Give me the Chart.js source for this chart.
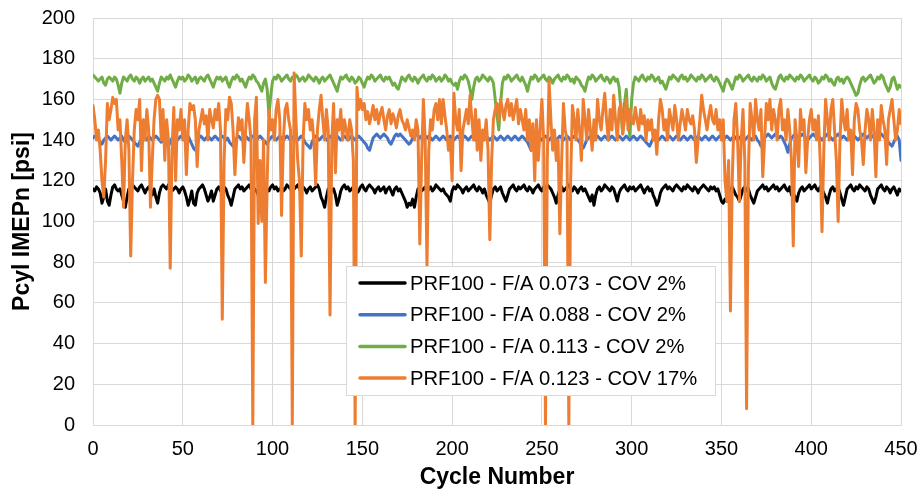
<!DOCTYPE html>
<html>
<head>
<meta charset="utf-8">
<script src="https://cdn.jsdelivr.net/npm/chart.js@4.4.1/dist/chart.umd.min.js"></script>
<style>
  html, body { margin: 0; padding: 0; background: #fff; }
  canvas { display: block; }
</style>
</head>
<body>
<canvas id="chart" width="920" height="489"></canvas>
<script>
// legend labels, in series order
const seriesNames = [
  "PRF100 - F/A 0.073 - COV 2%",
  "PRF100 - F/A 0.088 - COV 2%",
  "PRF100 - F/A 0.113 - COV 2%",
  "PRF100 - F/A 0.123 - COV 17%"
];
const seriesColors = ["#000000", "#4472C4", "#70AD47", "#ED7D31"];

const xTicks = [0, 50, 100, 150, 200, 250, 300, 350, 400, 450];
const yTicks = [0, 20, 40, 60, 80, 100, 120, 140, 160, 180, 200];

// Pcyl IMEPn [psi] per cycle, cycle 0..450
const fa073 = [
  116,115,117,116,114,109,112,116,110,108, // 0
  113,117,118,116,115,116,113,110,107,112,
  116,117,118,117,116,115,117,118,116,114,
  116,117,115,113,116,112,109,114,117,118,
  117,116,118,117,115,116,117,116,114,116,
  117,115,112,108,111,115,109,108,114,116, // 50
  117,118,116,113,110,112,115,110,113,116,
  117,115,116,117,116,113,111,108,112,116,
  117,118,116,117,115,116,117,118,116,114,
  116,115,113,110,114,116,117,116,115,117,
  118,116,117,115,116,117,115,116,118,117, // 100
  116,114,116,117,118,116,115,117,116,114,
  116,117,115,116,117,118,116,112,110,107,
  112,116,117,115,116,113,108,111,115,117,
  118,116,117,115,116,117,116,114,115,117,
  118,116,115,117,118,117,116,114,116,117, // 150
  115,116,117,114,116,117,115,113,116,117,
  115,116,114,112,110,107,109,108,111,107,
  112,116,117,115,116,117,114,116,117,115,
  116,118,117,116,115,116,114,113,112,110,
  115,117,116,118,117,116,114,116,117,115, // 200
  116,117,118,116,115,117,116,114,116,113,
  111,109,113,116,117,115,116,117,114,112,
  110,113,116,117,118,116,115,117,116,117,
  118,116,115,117,116,114,116,117,118,116,
  115,117,116,118,117,116,114,112,109,113, // 250
  116,117,115,116,117,118,116,115,117,116,
  114,116,117,115,116,114,112,110,113,108,
  113,116,117,115,116,118,117,116,115,117,
  116,113,110,114,116,117,118,116,115,117,
  116,117,115,116,117,118,116,114,116,117, // 300
  115,116,113,111,108,110,114,116,117,118,
  116,117,116,115,117,118,117,116,115,117,
  116,118,117,116,115,117,116,114,116,117,
  118,117,116,115,117,116,117,115,116,113,
  110,109,111,110,114,116,117,115,113,112, // 350
  110,113,116,117,115,116,113,111,109,112,
  115,116,117,118,116,117,115,116,117,118,
  116,117,115,116,117,118,116,115,117,113,
  114,112,110,114,116,117,115,116,117,118,
  116,117,118,116,115,117,116,114,112,109, // 400
  113,116,117,115,116,117,114,111,108,112,
  116,117,118,116,115,117,116,118,117,116,
  115,117,116,113,111,109,112,116,117,118,
  116,115,117,116,114,116,117,115,113,116,
  115                                      // 450
];

const fa088 = [
  141,142,141,140,139,138,140,141,142,141, // 0
  140,141,142,141,140,141,142,140,139,141,
  142,141,140,139,138,137,139,141,142,141,
  140,142,141,140,141,142,141,140,139,140,
  139,138,137,139,141,142,141,140,141,142,
  141,140,141,142,140,138,136,135,138,141, // 50
  142,141,140,141,142,141,140,141,142,141,
  140,141,142,141,140,141,139,138,137,139,
  141,142,141,140,141,142,141,140,141,142,
  141,140,141,142,141,140,139,138,140,141,
  142,141,140,141,142,141,140,141,142,141, // 100
  140,141,142,141,140,141,142,141,139,138,
  137,136,139,141,142,141,140,141,142,141,
  140,141,142,141,140,141,142,141,140,141,
  142,141,140,141,142,141,140,141,142,141,
  140,139,138,136,135,138,141,142,143,142, // 150
  141,142,143,142,141,139,138,140,142,143,
  142,143,142,141,140,139,138,139,141,142,
  143,142,141,142,143,142,141,142,141,140,
  141,142,141,140,141,142,141,140,141,142,
  141,140,141,142,141,140,141,142,141,140, // 200
  141,142,141,140,141,142,141,140,141,142,
  141,140,141,142,141,140,141,142,141,140,
  141,142,141,140,141,142,141,140,141,142,
  141,140,139,137,135,138,140,141,142,141,
  140,141,142,141,140,141,142,141,140,141, // 250
  142,141,140,141,142,141,140,141,142,141,
  140,139,137,136,138,140,141,142,141,140,
  141,142,141,140,141,142,141,140,141,142,
  141,140,141,142,141,140,141,142,141,140,
  141,142,141,140,141,142,141,140,139,138, // 300
  137,139,141,142,141,140,141,142,141,140,
  141,142,141,140,141,142,141,140,141,142,
  141,140,141,142,141,140,141,142,141,140,
  141,142,141,140,141,142,141,140,141,142,
  141,140,141,142,141,140,141,142,141,140, // 350
  141,142,141,140,141,142,141,140,141,142,
  140,139,137,139,141,142,143,142,141,142,
  143,142,141,142,141,139,137,134,138,141,
  142,143,142,141,142,143,142,141,140,141,
  142,143,142,141,142,141,140,141,142,143, // 400
  142,141,140,141,142,143,142,141,142,141,
  140,141,142,143,142,141,140,141,142,143,
  142,141,142,143,142,141,140,141,142,143,
  142,141,140,139,138,137,139,141,142,140,
  130                                      // 450
];

const fa113 = [
  172,171,170,169,170,171,168,167,170,171, // 0
  170,169,171,170,167,163,168,171,170,169,
  171,172,170,169,171,170,168,170,171,169,
  170,171,169,170,168,166,164,168,171,170,
  169,171,170,172,170,168,166,169,171,170,
  171,169,170,172,171,169,170,171,168,170, // 50
  171,170,169,171,172,170,168,166,169,171,
  170,171,169,170,171,168,166,169,171,170,
  172,171,169,170,168,166,169,171,170,172,
  171,169,168,166,164,168,170,165,152,162,
  169,171,170,172,171,169,170,171,172,170, // 100
  169,171,170,172,171,169,170,171,169,170,
  172,171,170,169,171,170,168,170,171,169,
  170,171,172,170,168,166,164,168,171,170,
  171,172,170,169,171,170,168,169,171,170,
  168,166,169,171,170,172,171,169,170,171, // 150
  172,170,169,171,170,171,169,167,168,166,
  165,168,171,170,169,171,172,170,169,171,
  170,168,170,171,172,170,169,171,170,172,
  171,169,170,171,169,170,172,171,169,170,
  168,167,168,165,169,171,170,172,171,169, // 200
  165,160,166,170,171,169,170,172,171,170,
  169,171,170,168,160,152,145,158,168,171,
  170,172,171,169,170,171,172,170,169,171,
  169,167,164,168,171,170,172,171,169,170,
  171,172,170,169,171,170,168,170,171,172, // 250
  170,169,171,170,172,171,169,170,168,171,
  170,169,167,166,164,168,171,170,172,171,
  169,170,171,172,170,169,171,170,168,170,
  171,169,170,166,155,143,158,165,150,142,
  160,168,171,170,169,171,172,170,169,171, // 300
  170,172,171,169,170,171,168,169,167,165,
  168,171,170,172,171,170,169,171,172,170,
  171,169,170,172,171,170,169,171,170,172,
  171,169,170,171,172,170,169,171,170,168,
  166,164,168,170,169,167,165,168,171,170, // 350
  172,171,169,170,171,172,170,169,171,170,
  169,171,170,172,171,169,170,171,168,166,
  165,168,171,172,170,169,171,170,172,171,
  170,169,171,170,172,171,169,170,171,172,
  170,169,171,170,168,169,171,170,172,171, // 400
  169,170,168,167,170,171,169,170,168,170,
  171,170,168,166,164,162,163,167,170,171,
  169,170,171,172,170,168,169,171,170,172,
  171,168,166,164,166,170,171,168,165,167,
  166                                      // 450
];

const fa123 = [
  157,150,140,145,135,120,112,130,158,150, // 0
  155,161,158,160,145,150,130,107,140,150,
  135,83,120,145,155,150,160,125,150,140,
  155,145,107,130,150,160,162,160,140,155,
  130,150,140,77,135,156,120,150,145,155,
  140,150,123,145,158,155,157,150,127,145, // 50
  150,155,148,152,140,155,150,146,155,150,
  158,145,52,130,155,150,161,158,145,123,
  140,151,145,150,129,145,158,150,140,0,
  150,161,99,130,100,140,70,120,155,145,
  150,140,155,160,150,103,140,155,158,150, // 100
  145,0,173,150,130,120,83,140,158,150,
  155,145,150,140,118,145,155,162,150,140,
  155,145,54,140,158,124,150,145,155,140,
  150,145,140,150,145,130,0,166,155,160,
  155,158,150,154,148,152,157,150,155,148, // 150
  153,156,150,145,152,155,148,153,150,146,
  152,155,150,148,145,150,146,142,145,140,
  150,145,89,130,160,140,78,135,150,145,
  155,158,150,160,148,160,152,145,135,140,
  120,163,150,145,155,125,145,150,155,148, // 200
  162,150,140,155,135,150,130,145,140,150,
  135,91,130,150,155,158,150,160,155,150,
  157,160,152,158,150,155,160,148,155,150,
  145,155,140,150,135,148,120,150,130,145,
  160,140,0,130,169,150,135,145,130,140,   // 250
  94,130,158,145,140,0,120,157,150,140,
  155,145,130,160,150,140,155,145,135,150,
  140,160,150,145,155,163,150,140,155,145,
  162,150,140,155,158,143,150,160,145,155,
  150,148,156,150,145,155,148,152,140,150, // 300
  145,150,140,145,133,150,160,155,145,150,
  140,155,150,145,157,150,140,148,155,150,
  145,155,150,148,152,145,129,140,150,162,
  155,150,145,152,157,150,148,155,145,150,
  140,150,120,110,130,56,120,150,158,140,  // 350
  110,140,155,130,8,125,158,150,140,160,
  150,145,155,122,140,158,150,160,145,155,
  150,140,155,160,145,150,140,155,145,130,
  88,150,140,127,155,145,150,124,140,150,
  155,145,150,140,152,130,95,135,160,150,  // 400
  140,155,160,145,130,100,140,160,150,145,
  155,140,145,123,150,158,155,145,140,128,
  145,155,150,140,155,145,122,150,140,157,
  150,145,128,150,155,160,150,140,145,155,
  148                                      // 450
];

const seriesValues = [fa073, fa088, fa113, fa123];

const FONT = "'Liberation Sans', Arial, sans-serif";
const GRID = "#d9d9d9";

// legend box drawn over the lines, like the original
const boxLegend = {
  id: "boxLegend",
  afterDatasetsDraw(chart) {
    const ctx = chart.ctx;
    const ca = chart.chartArea;
    const x = ca.left + 253, y = ca.top + 248, w = 369, h = 129;
    ctx.save();
    ctx.fillStyle = "#fff";
    ctx.fillRect(x, y, w, h);
    ctx.strokeStyle = GRID;
    ctx.lineWidth = 1;
    ctx.strokeRect(x + 0.5, y + 0.5, w, h);
    ctx.font = "20.2px " + FONT;
    ctx.textBaseline = "middle";
    ctx.lineCap = "round";
    seriesNames.forEach((name, i) => {
      const ry = y + 17 + i * 31.7;
      ctx.strokeStyle = seriesColors[i];
      ctx.lineWidth = 3.5;
      ctx.beginPath();
      ctx.moveTo(x + 14, ry);
      ctx.lineTo(x + 59, ry);
      ctx.stroke();
      ctx.fillStyle = "#000";
      ctx.fillText(name, x + 64, ry + 1);
    });
    ctx.restore();
  }
};

new Chart(document.getElementById("chart"), {
  type: "line",
  data: {
    datasets: seriesValues.map((vals, i) => ({
      label: seriesNames[i],
      data: vals.map((v, c) => ({ x: c, y: v })),
      borderColor: seriesColors[i],
      backgroundColor: seriesColors[i],
      borderWidth: 3,
      pointRadius: 0,
      tension: 0,
      borderJoinStyle: "round",
      borderCapStyle: "round",
      order: 4 - i
    }))
  },
  options: {
    responsive: false,
    animation: false,
    devicePixelRatio: 1,
    layout: { padding: { top: 18, right: 19, left: 0, bottom: 0 } },
    plugins: {
      legend: { display: false },
      tooltip: { enabled: false }
    },
    scales: {
      x: {
        type: "linear",
        min: 0,
        max: 450,
        afterBuildTicks: s => { s.ticks = xTicks.map(v => ({ value: v })); },
        afterFit: s => { s.height = 64; s.paddingLeft = 0; s.paddingRight = 0; },
        grid: { color: GRID, lineWidth: 1, drawTicks: false },
        border: { color: GRID },
        ticks: { color: "#000", padding: 12, font: { family: FONT, size: 20 } },
        title: {
          display: true,
          text: "Cycle Number",
          color: "#000",
          padding: { top: 0, bottom: 0 },
          font: { family: FONT, size: 23, weight: "bold", lineHeight: 1 }
        }
      },
      y: {
        min: 0,
        max: 200,
        afterBuildTicks: s => { s.ticks = yTicks.map(v => ({ value: v })); },
        afterFit: s => { s.width = 93; s.paddingTop = 0; s.paddingBottom = 0; },
        grid: { color: GRID, lineWidth: 1, drawTicks: false },
        border: { color: GRID },
        ticks: { color: "#000", padding: 18, font: { family: FONT, size: 20 } },
        title: {
          display: true,
          text: "Pcyl IMEPn [psi]",
          color: "#000",
          padding: { top: 11, bottom: 0 },
          font: { family: FONT, size: 23, weight: "bold", lineHeight: 1 }
        }
      }
    }
  },
  plugins: [boxLegend]
});
</script>
</body>
</html>
